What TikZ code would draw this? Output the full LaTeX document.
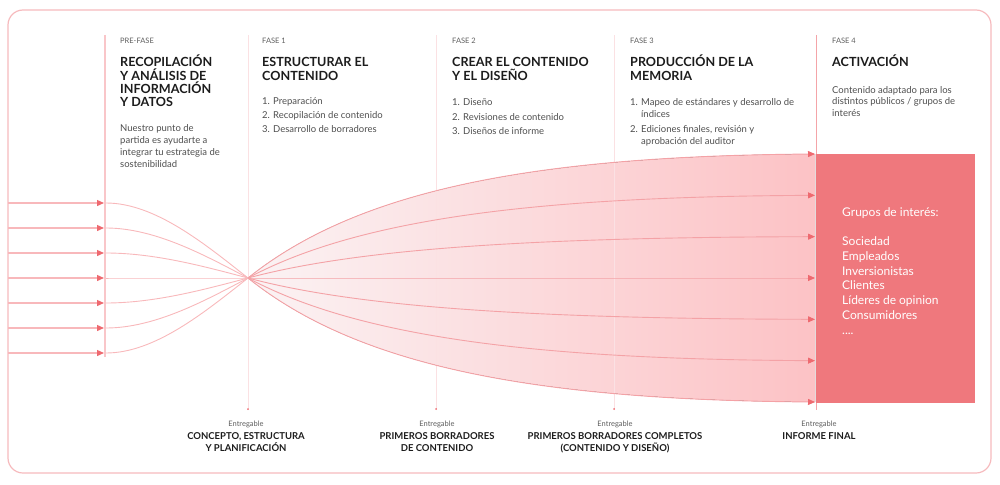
\documentclass[tikz,border=0pt]{standalone}
\usepackage{fontspec}
\setmainfont{Lato}
\usetikzlibrary{arrows.meta}
\definecolor{bord}{HTML}{F6BABD}
\definecolor{vfaint}{HTML}{FBE1E3}
\definecolor{prel}{HTML}{F9C6C9}
\definecolor{f4line}{HTML}{F4A4A8}
\definecolor{arl}{HTML}{F8B8BB}
\definecolor{fanl}{HTML}{F4A2A6}
\definecolor{tipred}{HTML}{EE6A70}
\definecolor{boxred}{HTML}{EF787D}
\definecolor{fanL}{HTML}{FBF3F4}
\definecolor{fanR}{HTML}{FCC2C5}
\definecolor{ink}{HTML}{1C1C1C}
\definecolor{body}{HTML}{4E4E4E}
\definecolor{lbl}{HTML}{5E5E5E}
\newcommand\firstT{\rule{0pt}{13pt}}
\newcommand\firstB{\rule{0pt}{10pt}}
\newcommand\firstG{\rule{0pt}{12pt}}
\begin{document}
\begin{tikzpicture}[x=1pt,y=-1pt,
  phase/.style={font=\fontsize{7.5}{9}\selectfont, text=lbl, anchor=base west, inner sep=0pt},
  ttl/.style={font=\bfseries\fontsize{12.6}{13.3}\selectfont, text=ink, align=left, anchor=north west, inner sep=0pt},
  bodytxt/.style={font=\fontsize{9.5}{12.2}\selectfont, text=body, align=left, anchor=north west, inner sep=0pt},
  deltag/.style={font=\fontsize{7.5}{9}\selectfont, text=lbl, anchor=base, inner sep=0pt},
  deliv/.style={font=\bfseries\fontsize{9.5}{12}\selectfont, text=ink, align=center, anchor=north, inner sep=0pt},
  vline/.style={draw=vfaint, line width=0.8pt},
  arrowline/.style={draw=arl, line width=1.3pt, -{Triangle[length=7pt,width=6pt,color=tipred]}},
  curveline/.style={draw=arl, line width=0.9pt},
  fanline/.style={draw=fanl, line width=0.9pt, -{Triangle[length=7pt,width=6pt,color=tipred]}},
  dot/.style={circle, fill=tipred, inner sep=0pt, minimum size=2pt},
  box/.style={fill=boxred, draw=none, inner sep=0pt, anchor=north west, minimum width=159pt, minimum height=249pt},
  boxtxt/.style={font=\fontsize{12}{14.75}\selectfont, text=white, align=left, anchor=north west, inner sep=0pt}
]
\useasboundingbox (0,0) rectangle (1000,484);
% outer frame
\draw[bord, line width=1.2pt, rounded corners=15pt] (8,10) rectangle (991,473);

% convergence point and fan endpoints
\coordinate (C) at (248,278);
\foreach \i in {1,...,7} {
  \pgfmathsetmacro\s{(4-\i)/3}
  \coordinate (L\i) at (8,{278-75*\s});
  \coordinate (P\i) at (104,{278-75*\s});
  \coordinate (Q\i) at (106,{278-75*\s});
  \coordinate (R\i) at (815,{278-124*\s});
}

% fan fill
\fill[left color=fanL, right color=fanR] (C) .. controls (360,188) and (540,156) .. (R1) -- (R7) .. controls (540,400) and (360,368) .. (C) -- cycle;

% vertical phase lines
\draw[prel, line width=2pt] (105,35) -- (105,357);
\draw[vline] (248,35) -- (248,409);
\draw[vline] (436,35) -- (436,409);
\draw[vline] (614,35) -- (614,409);
\node[dot] (d1) at (248,409) {};
\node[dot] (d2) at (436,409) {};
\node[dot] (d3) at (614,409) {};

% left arrows and converging curves
\foreach \i in {1,...,7} {
  \pgfmathsetmacro\s{(4-\i)/3}
  \draw[arrowline] (L\i) -- (P\i);
  \draw[curveline] (Q\i) .. controls (155,{278-75*\s}) and (205,{278-34*\s}) .. (C);
  \draw[fanline] (C) .. controls (360,{278-90*\s}) and (540,{278-122*\s}) .. (R\i);
}

% activation box
\node[box] (grp) at (816,154) {};
\draw[f4line, line width=0.9pt] (816,35) -- (grp.north west);
\draw[f4line, line width=0.9pt] (grp.south west) -- (816,410);
\node[boxtxt] (grptxt) at (842,204) {\firstG Grupos de interés:\\[14.75pt]Sociedad\\Empleados\\Inversionistas\\Clientes\\Líderes de opinion\\Consumidores\\....};

% column headers
\node[phase] (ph0) at (120,44) {PRE-FASE};
\node[phase] (ph1) at (262,44) {FASE 1};
\node[phase] (ph2) at (452,44) {FASE 2};
\node[phase] (ph3) at (630,44) {FASE 3};
\node[phase] (ph4) at (832,44) {FASE 4};

\node[ttl] (t0) at (120,53.7) {\firstT RECOPILACIÓN\\Y ANÁLISIS DE\\INFORMACIÓN\\Y DATOS};
\node[ttl] (t1) at (262,53.7) {\firstT ESTRUCTURAR EL\\CONTENIDO};
\node[ttl] (t2) at (452,53.7) {\firstT CREAR EL CONTENIDO\\Y EL DISEÑO};
\node[ttl] (t3) at (630,53.7) {\firstT PRODUCCIÓN DE LA\\MEMORIA};
\node[ttl] (t4) at (832,53.7) {\firstT ACTIVACIÓN};

\node[bodytxt] (b0) at (120,121) {\firstB Nuestro punto de\\partida es ayudarte a\\integrar tu estrategia de\\sostenibilidad};
\node[bodytxt, font=\fontsize{9.5}{14.2}\selectfont] (b1) at (262,94) {\firstB 1. Preparación\\2. Recopilación de contenido\\3. Desarrollo de borradores};
\node[bodytxt, font=\fontsize{9.5}{14.7}\selectfont] (b2) at (452,95.3) {\firstB 1. Diseño\\2. Revisiones de contenido\\3. Diseños de informe};
\node[bodytxt, font=\fontsize{9.5}{12}\selectfont] (b3) at (630,95.3) {\firstB 1. Mapeo de estándares y desarrollo de\\\phantom{1. }índices\\[3pt]2. Ediciones finales, revisión y\\\phantom{2. }aprobación del auditor};
\node[bodytxt, font=\fontsize{9.5}{11.4}\selectfont] (b4) at (832,83.3) {\firstB Contenido adaptado para los\\distintos públicos / grupos de\\interés};

% deliverables
\node[deltag] (e1) at (246,426) {Entregable};
\node[deltag] (e2) at (437,426) {Entregable};
\node[deltag] (e3) at (615,426) {Entregable};
\node[deltag] (e4) at (819,426) {Entregable};
\node[deliv] (v1) at (246,429) {\firstB CONCEPTO, ESTRUCTURA\\Y PLANIFICACIÓN};
\node[deliv] (v2) at (437,429) {\firstB PRIMEROS BORRADORES\\DE CONTENIDO};
\node[deliv] (v3) at (615,429) {\firstB PRIMEROS BORRADORES COMPLETOS\\(CONTENIDO Y DISEÑO)};
\node[deliv] (v4) at (819,429) {\firstB INFORME FINAL};
\end{tikzpicture}
\end{document}
